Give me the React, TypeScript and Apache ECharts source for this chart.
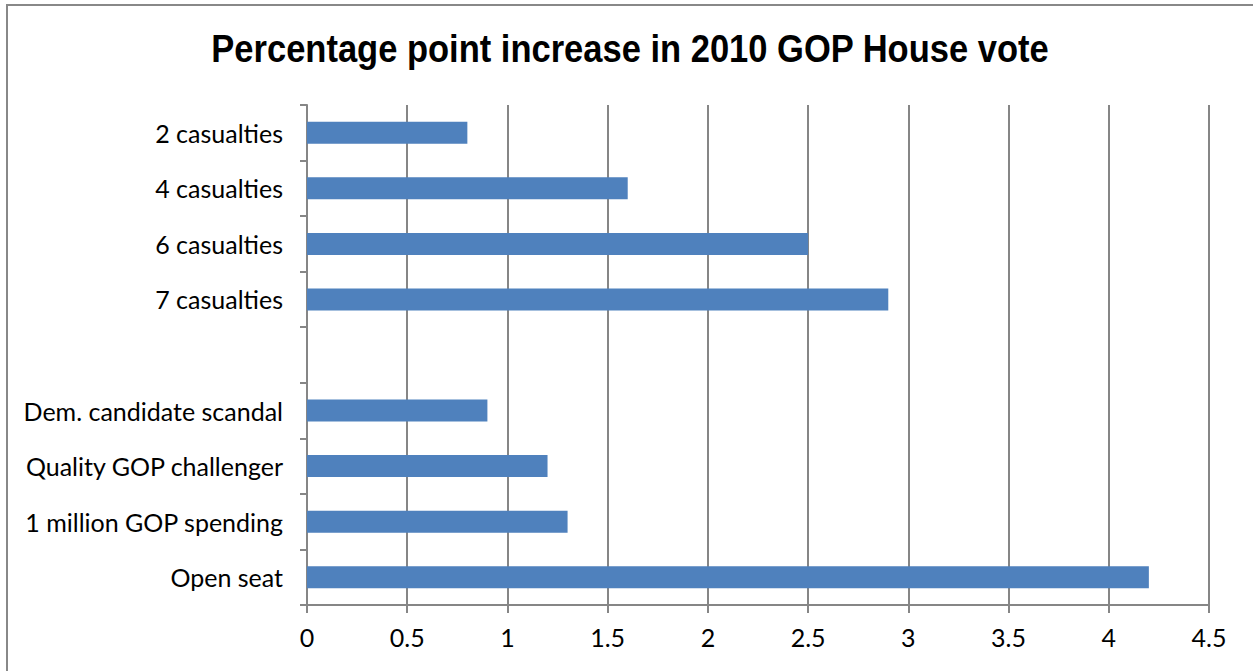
import React, { useEffect, useRef } from "react";
import * as echarts from "echarts";

const titleText = "Percentage point increase in 2010 GOP House vote";
const categories = [
  "2 casualties",
  "4 casualties",
  "6 casualties",
  "7 casualties",
  "",
  "Dem. candidate scandal",
  "Quality GOP challenger",
  "1 million GOP spending",
  "Open seat",
];
const values: (number | null)[] = [0.8, 1.6, 2.5, 2.9, null, 0.9, 1.2, 1.3, 4.2];
const xMin = 0;
const xMax = 4.5;
const xInterval = 0.5;

const LABEL_FONT = "Lato";
const TITLE_FONT = "Liberation Sans";

export default function App() {
  const ref = useRef<HTMLDivElement>(null);
  useEffect(() => {
    if (!ref.current) return;
    const chart = echarts.init(ref.current, undefined, { renderer: "svg" });
    chart.setOption({
      animation: false,
      backgroundColor: "#ffffff",
      graphic: [
        {
          type: "rect",
          shape: { x: 7, y: 5, width: 1260, height: 700 },
          style: { fill: "none", stroke: "#888888", lineWidth: 2 },
          silent: true,
          z: -1,
        },
        {
          type: "text",
          x: 630,
          y: 49,
          scaleX: 0.885,
          style: {
            text: titleText,
            fontFamily: TITLE_FONT,
            fontWeight: "bold",
            fontSize: 39,
            fill: "#000000",
            textAlign: "center",
            textVerticalAlign: "middle",
          },
          silent: true,
        },
      ],
      grid: { left: 307, right: 44, top: 105, bottom: 66, containLabel: false },
      xAxis: {
        type: "value",
        min: xMin,
        max: xMax,
        interval: xInterval,
        axisLine: { show: true, lineStyle: { color: "#868686", width: 2 } },
        axisTick: { show: true, length: 8, lineStyle: { color: "#868686", width: 2 } },
        splitLine: { show: true, lineStyle: { color: "#868686", width: 2 } },
        axisLabel: {
          fontFamily: LABEL_FONT,
          fontSize: 25,
          color: "#000000",
          margin: 19,
        },
      },
      yAxis: {
        type: "category",
        inverse: true,
        data: categories,
        axisLine: { show: true, lineStyle: { color: "#868686", width: 2 } },
        axisTick: { show: true, length: 7, lineStyle: { color: "#868686", width: 2 } },
        axisLabel: {
          fontFamily: LABEL_FONT,
          fontSize: 25,
          color: "#000000",
          margin: 24,
        },
        splitLine: { show: false },
      },
      series: [
        {
          type: "bar",
          data: values,
          barWidth: 22,
          itemStyle: { color: "#4F81BD" },
        },
      ],
    });
    return () => chart.dispose();
  }, []);
  return (
    <div
      ref={ref}
      style={{ position: "absolute", left: 0, top: 0, width: 1253, height: 671 }}
    />
  );
}
